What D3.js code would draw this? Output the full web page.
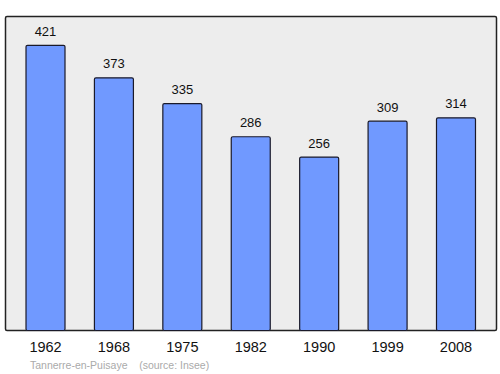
<!DOCTYPE html>
<html><head><meta charset="utf-8">
<script src="https://cdn.jsdelivr.net/npm/d3@7"></script>
<style>body{margin:0;background:#fff}svg{display:block}</style>
</head><body>
<script>
const years = ["1962","1968","1975","1982","1990","1999","2008"];
const population = [421,373,335,286,256,309,314];
const caption = "Tannerre-en-Puisaye    (source: Insee)";

const W=500,H=374;
const svg=d3.select("body").append("svg").attr("width",W).attr("height",H);
const fl=5.5, fr=496.5, ft=16.5, fb=330.5;
svg.append("rect").attr("x",fl).attr("y",ft).attr("width",fr-fl).attr("height",fb-ft)
  .attr("fill","#ededed").attr("stroke","#222").attr("stroke-width",1.5).attr("rx",1.5);

const x=d3.scaleBand().domain(years).range([11.3,490.2]).paddingInner(0.43).paddingOuter(0.215);
const y=d3.scaleLinear().domain([0,463.5]).range([330,16]);

svg.selectAll("rect.bar").data(population).enter().append("rect").attr("class","bar")
  .attr("x",(d,i)=>x(years[i])).attr("y",d=>y(d)+0.5)
  .attr("width",x.bandwidth()).attr("height",d=>330-y(d))
  .attr("fill","#7099ff").attr("stroke","#1a1a2a").attr("stroke-width",1.2).attr("rx",1.5);

svg.selectAll("text.val").data(population).enter().append("text").attr("class","val")
  .attr("x",(d,i)=>x(years[i])+x.bandwidth()/2).attr("y",d=>y(d)-9)
  .attr("text-anchor","middle").attr("font-family","Liberation Sans, Arial, sans-serif")
  .attr("font-size",13).attr("fill","#111").text(d=>d);

const ax=svg.append("g").attr("transform","translate(0,330)").call(d3.axisBottom(x).tickSize(0).tickPadding(12));
ax.select(".domain").remove();
ax.selectAll("text").attr("font-family","Liberation Sans, Arial, sans-serif").attr("font-size",14.5).attr("fill","#111");

svg.append("text").attr("x",30).attr("y",369).attr("font-family","Liberation Sans, Arial, sans-serif")
  .attr("font-size",10.5).attr("fill","#aaa").attr("xml:space","preserve").style("white-space","pre").text(caption);
</script>
</body></html>
